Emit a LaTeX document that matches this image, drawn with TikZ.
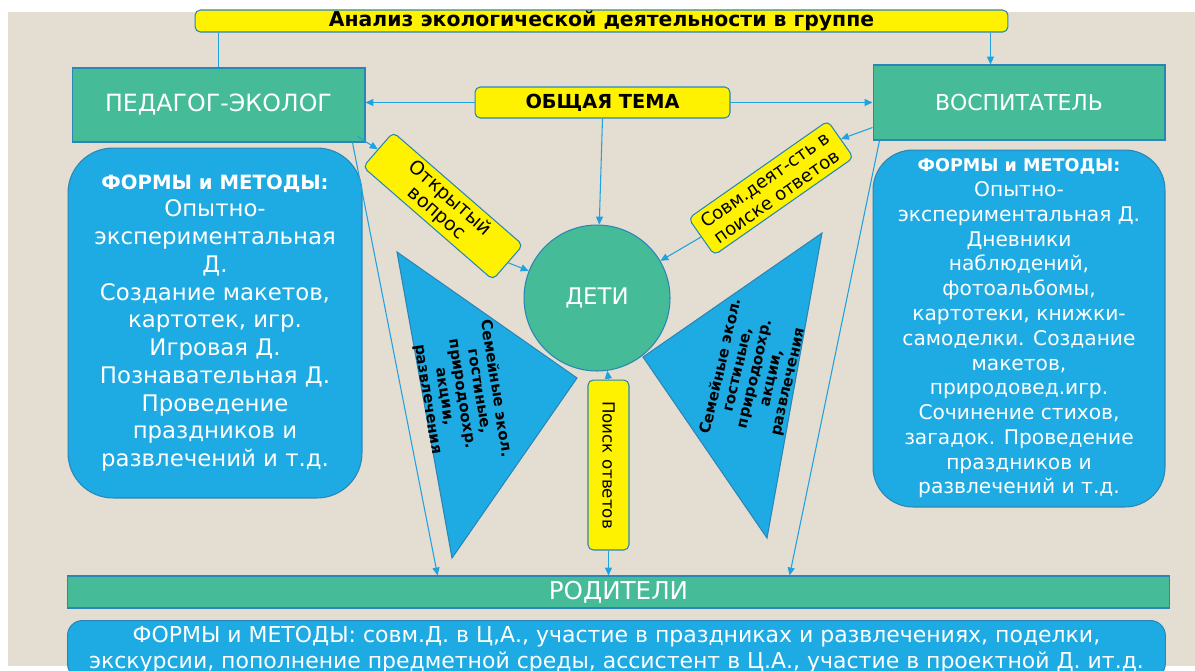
\documentclass[tikz,border=0pt]{standalone}
\usepackage{fontspec}
\setmainfont{DejaVu Sans}
\usetikzlibrary{arrows.meta}
\definecolor{bgsand}{HTML}{E3DDD2}
\definecolor{ecogreen}{HTML}{45BB98}
\definecolor{ecoblue}{HTML}{1EABE3}
\definecolor{edgeblue}{HTML}{2A86B5}
\definecolor{linkblue}{HTML}{1EA2E0}

\begin{document}
\begin{tikzpicture}[x=0.02cm,y=-0.02cm,
	greenbox/.style={draw=edgeblue,fill=ecogreen,text=white,inner sep=0pt,line width=0.6pt},
	yellowbox/.style={draw=edgeblue,fill=yellow,text=black,rounded corners=3pt,inner sep=0pt,line width=0.6pt},
	formsbox/.style={draw=edgeblue,fill=ecoblue,text=white,align=center,inner sep=0pt,line width=0.6pt},
	tritext/.style={text=black,align=center,font=\fontsize{8.5}{9.8}\selectfont\bfseries},
	link/.style={draw=linkblue,line width=0.6pt,-{Triangle[length=4.5pt,width=4pt]}}]
	\useasboundingbox (0,0) rectangle (1195,670);
	\clip (0,0) rectangle (1195,670);
	\fill[bgsand] (8,12) rectangle (1195,666);

	\node[yellowbox,minimum width=16.26cm,minimum height=0.44cm,font=\fontsize{11.6}{13}\selectfont\bfseries] (title) at (601.5,21) {Анализ экологической деятельности в группе};

	\node[greenbox,minimum width=5.86cm,minimum height=1.48cm,font=\fontsize{13.5}{15}\selectfont] (ped) at (218.5,105) {ПЕДАГОГ-ЭКОЛОГ};
	\node[greenbox,minimum width=5.84cm,minimum height=1.5cm,font=\fontsize{12.5}{15}\selectfont] (vos) at (1019,102.5) {ВОСПИТАТЕЛЬ};
	\node[yellowbox,minimum width=5.1cm,minimum height=0.62cm,font=\fontsize{11}{13}\selectfont\bfseries] (tema) at (602.5,102.5) {ОБЩАЯ ТЕМА};

	\node[formsbox,rounded corners=0.9cm,minimum width=5.88cm,minimum height=7cm,font=\fontsize{13}{15.8}\selectfont] (pedforms) at (215,323) {{\fontsize{11.2}{15.8}\selectfont\bfseries ФОРМЫ и МЕТОДЫ:}\\Опытно-\\экспериментальная\\Д.\\Создание макетов,\\картотек, игр.\\Игровая Д.\\Познавательная Д.\\Проведение\\праздников и\\развлечений и т.д.};
	\node[formsbox,rounded corners=0.8cm,minimum width=5.84cm,minimum height=7.14cm,font=\fontsize{11.5}{14.1}\selectfont] (vosforms) at (1019,328.5) {{\fontsize{10}{14.1}\selectfont\bfseries ФОРМЫ и МЕТОДЫ:}\\Опытно-\\экспериментальная Д.\\Дневники\\наблюдений,\\фотоальбомы,\\картотеки, книжки-\\самоделки. Создание\\макетов,\\природовед.игр.\\Сочинение стихов,\\загадок. Проведение\\праздников и\\развлечений и т.д.};

	\node[greenbox,circle,minimum size=2.92cm,font=\fontsize{13}{15}\selectfont] (deti) at (597,298) {ДЕТИ};

	\node[yellowbox,rotate=-41,minimum width=3.44cm,minimum height=0.92cm,align=center,font=\fontsize{10.8}{11.5}\selectfont] (otkr) at (443,206) {Открытый\\вопрос};
	\node[yellowbox,rotate=35,minimum width=3.4cm,minimum height=0.9cm,align=center,font=\fontsize{10.3}{11.5}\selectfont] (sovm) at (771,188) {Совм.деят-сть в\\поиске ответов};

	\filldraw[fill=ecoblue,draw=edgeblue,line width=0.6pt] (397,252) -- (577,378) -- (452,558) -- cycle;
	\node[tritext,rotate=-81] (lfam) at (462,394) {Семейные экол.\\гостиные,\\природоохр.\\акции,\\развлечения};
	\filldraw[fill=ecoblue,draw=edgeblue,line width=0.6pt] (822,233) -- (643,357) -- (767,538) -- cycle;
	\node[tritext,rotate=77] (rfam) at (755,374) {Семейные экол.\\гостиные,\\природоохр.\\акции,\\развлечения};

	\node[yellowbox,rotate=-90,minimum width=3.4cm,minimum height=0.82cm,font=\fontsize{9.5}{11}\selectfont] (poisk) at (608.5,465) {Поиск ответов};

	\node[greenbox,minimum width=22.06cm,minimum height=0.64cm,font=\fontsize{14}{15}\selectfont] (rod) at (618.5,592) {РОДИТЕЛИ};
	\node[formsbox,anchor=north west,rounded corners=0.3cm,minimum width=21.96cm,minimum height=1.16cm,font=\fontsize{12.5}{14.8}\selectfont] (rodforms) at (67,620) {ФОРМЫ и МЕТОДЫ: совм.Д. в Ц,А., участие в праздниках и развлечениях, поделки,\\экскурсии, пополнение предметной среды, ассистент в Ц.А., участие в проектной Д. ит.д.};

	\coordinate (vosin) at ([shift={(-18,0)}]title.south east);
	\draw[draw=linkblue,line width=0.6pt] (ped.north |- title.south) -- (ped.north);
	\draw[link] (vosin) -- (vosin |- vos.north);
	\draw[link] (tema.west) -- (tema.west -| ped.east);
	\draw[link] (tema.east) -- (tema.east -| vos.west);
	\draw[link] (tema.south) -- (deti);
	\draw[link] ([shift={(-8,-6)}]ped.south east) -- (otkr.west);
	\draw[link] (otkr.east) -- (deti);
	\draw[link] ([shift={(0,-13)}]vos.south west) -- (sovm.east);
	\draw[link] (sovm.west) -- (deti);
	\draw[link] ([shift={(-13,0)}]ped.south east) -- ([shift={(371,0)}]rod.north west);
	\draw[link] ([shift={(7,0)}]vos.south west) -- ([shift={(723,0)}]rod.north west);
	\draw[link] (poisk.west) -- (deti);
	\draw[link] (poisk.east) -- (poisk.east |- rod.north);
\end{tikzpicture}
\end{document}
